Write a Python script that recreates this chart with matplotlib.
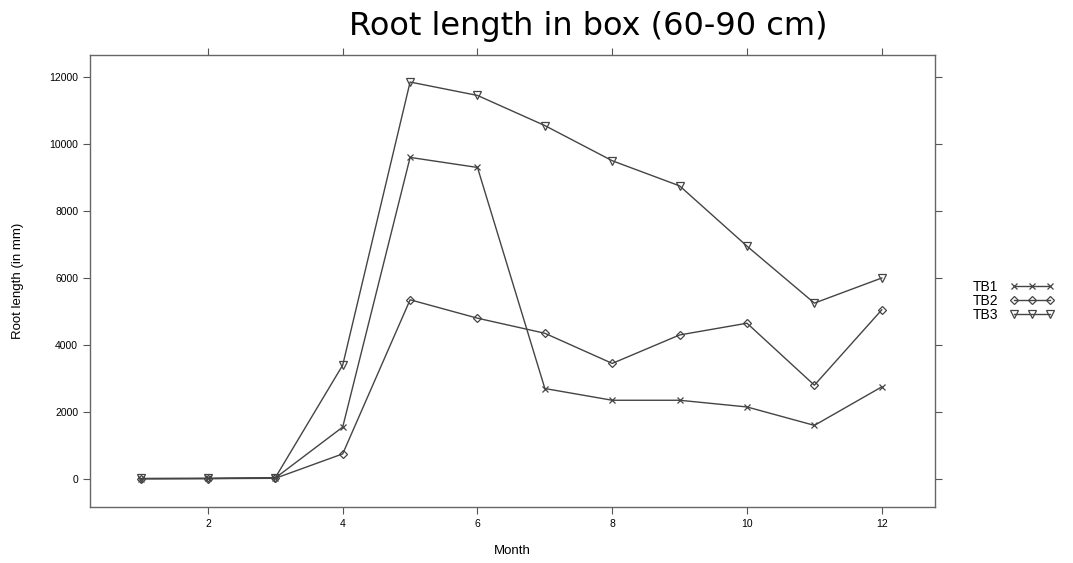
import matplotlib.pyplot as plt
from matplotlib.lines import Line2D

months = [1, 2, 3, 4, 5, 6, 7, 8, 9, 10, 11, 12]
tb1 = [10, 15, 30, 1550, 9600, 9300, 2700, 2350, 2350, 2150, 1600, 2750]
tb2 = [5, 10, 20, 750, 5350, 4800, 4350, 3450, 4300, 4650, 2800, 5050]
tb3 = [15, 20, 40, 3400, 11850, 11450, 10550, 9500, 8750, 6950, 5250, 6000]
series_names = ["TB1", "TB2", "TB3"]

plt.rcParams['font.family'] = ['Liberation Sans', 'DejaVu Sans']

fig = plt.figure(figsize=(10.73, 5.63), dpi=100)
ax = fig.add_axes([0.0839, 0.0995, 0.7875, 0.8028])

col = '#444444'
ax.plot(months, tb1, color=col, lw=1, marker='x', ms=5, mew=0.9)
ax.plot(months, tb2, color=col, lw=1, marker='D', ms=4.5, mfc='none', mew=0.9)
ax.plot(months, tb3, color=col, lw=1, marker='v', ms=6, mfc='none', mew=0.9)

ax.set_xlim(0.25, 12.79)
ax.set_ylim(-836, 12657)
ax.set_xticks([2, 4, 6, 8, 10, 12])
ax.set_yticks([0, 2000, 4000, 6000, 8000, 10000, 12000])
ax.tick_params(axis='both', which='both', direction='out', length=5,
               color='#555555', labelsize=7.5, top=True, right=True,
               labeltop=False, labelright=False)
for s in ax.spines.values():
    s.set_color('#666666')
    s.set_linewidth(1)

ax.set_xlabel("Month", fontsize=9.5, labelpad=12)
ax.set_ylabel("Root length (in mm)", fontsize=9.5, labelpad=18)
fig.text(0.548, 0.953, "Root length in box (60-90 cm)", ha='center',
         va='center', fontsize=23, family='DejaVu Sans')

handles = [
    Line2D([0], [0], color=col, lw=1, marker='x', ms=5, mew=0.9),
    Line2D([0], [0], color=col, lw=1, marker='D', ms=4.5, mfc='none', mew=0.9),
    Line2D([0], [0], color=col, lw=1, marker='v', ms=6, mfc='none', mew=0.9),
]
fig.legend(handles, series_names, loc='center left', bbox_to_anchor=(0.895, 0.465),
           frameon=False, fontsize=10, numpoints=3, handlelength=3.2,
           markerfirst=False, labelspacing=0.0, handletextpad=0.8)

fig.savefig("out.png", dpi=100)
